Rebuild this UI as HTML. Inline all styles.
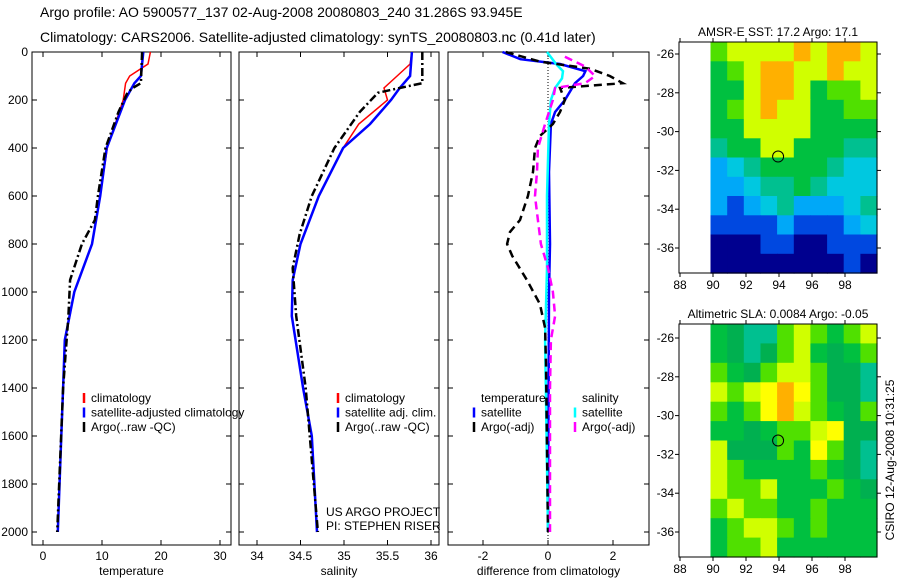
<!DOCTYPE html>
<html><head><meta charset="utf-8"><style>
body{margin:0;background:#fff;}
svg{display:block;font-family:"Liberation Sans",sans-serif;}
</style></head><body>
<svg id="c" width="900" height="580" viewBox="0 0 900 580">
<text x="40" y="17" font-size="14">Argo profile: AO 5900577_137 02-Aug-2008 20080803_240 31.286S 93.945E</text>
<text x="40" y="42" font-size="14">Climatology: CARS2006. Satellite-adjusted climatology: synTS_20080803.nc (0.41d later)</text>
</svg>
<script>
// depth arrays and values
const depthT = [0,50,100,130,200,400,600,800,1000,1200,1400,1600,2000];
const tClim  = [18.2,17.8,14.7,14.0,13.6,10.9,9.7,8.3,5.3,3.8,3.4,3.1,2.5];
const tSat   = [17.0,16.8,16.6,15.5,13.9,10.8,9.7,8.3,5.3,3.7,3.4,3.1,2.5];
const depthArgoT = [0,130,150,170,250,400,600,700,800,950,1100,1400,2000];
const tArgo  = [16.8,16.6,15.2,14.3,12.8,10.6,9.3,8.8,6.6,4.6,4.3,3.4,2.4];
const depthS = [0,50,100,150,200,300,400,600,800,950,1100,1400,1600,2000];
const sClim  = [35.78,35.76,35.61,35.46,35.50,35.17,34.99,34.71,34.50,34.41,34.40,34.53,34.63,34.69];
const sSat   = [35.78,35.77,35.76,35.64,35.54,35.30,34.99,34.71,34.50,34.41,34.40,34.53,34.63,34.69];
const depthArgoS = [0,130,150,170,250,400,600,760,900,1100,1400,2000];
const sArgo  = [35.9,35.9,35.64,35.39,35.18,34.89,34.63,34.49,34.41,34.45,34.56,34.70];
const depthD1 = [0,30,50,80,100,130,200,250,300,500,800,1000,2000];
const dTsat  = [-1.4,-0.85,0.37,1.15,1.08,0.83,0.52,0.22,0.09,0.03,0.06,0.03,0];
const depthD2 = [0,40,70,100,130,150,200,250,300,350,400,500,600,700,750,800,850,950,1050,1150,1300,2000];
const dTargo = [-1.3,-0.25,1.3,1.9,2.3,0.37,0.52,0.37,0.15,-0.25,-0.4,-0.46,-0.62,-0.86,-1.17,-1.26,-1.1,-0.65,-0.25,-0.09,-0.06,0];
const depthD3 = [0,50,80,110,150,200,300,600,900,1200,2000];
const dSsat  = [-0.03,0.25,0.46,0.43,0.22,0.09,0.03,-0.03,-0.03,-0.09,0];
const depthD4 = [20,60,100,130,150,200,300,400,500,600,700,800,900,1000,1100,1200,1400,2000];
const dSargo = [0.52,1.14,1.45,1.14,0.22,0.15,-0.09,-0.31,-0.34,-0.4,-0.31,-0.22,0,0.15,0.22,0.09,0.06,0.06];
const sstTitle = "AMSR-E SST: 17.2 Argo: 17.1";
const slaTitle = "Altimetric SLA: 0.0084 Argo: -0.05";
const sstGrid = ["gYYYYOYOOY","GgYOOYYOYY","GGYOOYGggY","GgYOYYGGgg","GGYYYYGGGG","TGGYYGGGTT","LCTGGGGTCC","LLCTTGTCCC","LBLCTLLLCT","BBBBLBBBLC","NNNBBNNBBB","NNNNNNNNBN"];
const slaGrid = ["GDTTgYgGgY","GDTDgYGDGg","gGDgYYgDDT","YgYyOygDDT","gGgyOYgGDg","GGDGggYyDD","YDDDgGygDT","YgGGGGgGDT","YggYGGGgGD","gYggGGgGGG","GgYYgGgGGG","GggYGGGGGG"];
const pal = {N:"#00008f",B:"#0048e0",L:"#00a8f8",C:"#00c8e0",T:"#00c090",G:"#00c040",D:"#00b050",g:"#50e000",Y:"#d0ff00",y:"#ffff00",O:"#ffb000"};

const svg=document.getElementById('c');
const NS="http://www.w3.org/2000/svg";
function mk(tag,attrs,parent){const e=document.createElementNS(NS,tag);for(const k in attrs)e.setAttribute(k,attrs[k]);(parent||svg).appendChild(e);return e;}
const Y0=52,Y1=545;
function yD(d){return 52+d*0.24;}
const panels=[
 {x0:32,x1:231,fx:v=>43+v*5.9,ticks:[0,10,20,30],label:"temperature",name:"temperature-panel",ylab:true},
 {x0:239,x1:439,fx:v=>257+(v-34)*87,ticks:[34,34.5,35,35.5,36],label:"salinity",name:"salinity-panel"},
 {x0:448,x1:649,fx:v=>548+v*32.5,ticks:[-2,0,2],label:"difference from climatology",name:"difference-panel"}
];
panels.forEach(p=>{
 const g=mk('g',{});
 
 
 const r=mk('rect',{x:p.x0,y:Y0,width:p.x1-p.x0,height:Y1-Y0,fill:'none',stroke:'#000','stroke-width':1},g);
 
 
 for(let d=0;d<=2000;d+=200){const y=yD(d);
  mk('line',{x1:p.x0,x2:p.x0+5,y1:y,y2:y,stroke:'#000'},g);mk('line',{x1:p.x1,x2:p.x1-5,y1:y,y2:y,stroke:'#000'},g);
  if(p.ylab){const t=mk('text',{x:p.x0-4,y:y+4,'font-size':12,'text-anchor':'end'},g);t.textContent=d;
   
   }
 }
 p.ticks.forEach(v=>{const x=p.fx(v);
  mk('line',{x1:x,x2:x,y1:Y1,y2:Y1-5,stroke:'#000'},g);mk('line',{x1:x,x2:x,y1:Y0,y2:Y0+5,stroke:'#000'},g);
  const t=mk('text',{x:x,y:Y1+15,'font-size':12,'text-anchor':'middle'},g);t.textContent=v;
  
  });
 const t=mk('text',{x:(p.x0+p.x1)/2,y:575,'font-size':12,'text-anchor':'middle'},g);t.textContent=p.label;
 
 
});
mk('line',{x1:548,x2:548,y1:Y0,y2:Y1,stroke:'#000','stroke-dasharray':'1 2'});
function series(ds,vs,fx,color,w,dash,name){
 const pts=ds.map((d,i)=>fx(vs[i]).toFixed(1)+','+yD(d).toFixed(1)).join(' ');
 const l=mk('polyline',{points:pts,fill:'none',stroke:color,'stroke-width':w});
 if(dash)l.setAttribute('stroke-dasharray',dash);
 
 
}
const [P1,P2,P3]=panels;
series(depthT,tClim,P1.fx,'#f00',1.5,null,'temp-climatology-line');
series(depthT,tSat,P1.fx,'#00f',2.5,null,'temp-satellite-line');
series(depthArgoT,tArgo,P1.fx,'#000',2.5,'8 3 2 3','temp-argo-line');
series(depthS,sClim,P2.fx,'#f00',1.5,null,'sal-climatology-line');
series(depthS,sSat,P2.fx,'#00f',2.5,null,'sal-satellite-line');
series(depthArgoS,sArgo,P2.fx,'#000',2.5,'8 3 2 3','sal-argo-line');
series(depthD1,dTsat,P3.fx,'#00f',2.5,null,'diff-temp-satellite-line');
series(depthD3,dSsat,P3.fx,'#0ff',2.5,null,'diff-sal-satellite-line');
series(depthD2,dTargo,P3.fx,'#000',2.5,'8 5','diff-temp-argo-line');
series(depthD4,dSargo,P3.fx,'#f0f',2.5,'8 5','diff-sal-argo-line');
function legend(x,y,items,name){
 const g=mk('g',{});
 
 
 items.forEach((it,i)=>{const yy=y+i*14.5;
  if(it[1])mk('line',{x1:x,x2:x,y1:yy-9,y2:yy+1,stroke:it[1],'stroke-width':2.5},g);
  const t=mk('text',{x:x+7,y:yy,'font-size':12},g);t.textContent=it[0];
  
  });
}
legend(84,402,[["climatology","#f00"],["satellite-adjusted climatology","#00f"],["Argo(..raw -QC)","#000"]],'temperature-legend');
legend(338,402,[["climatology","#f00"],["satellite adj. clim.","#00f"],["Argo(..raw -QC)","#000"]],'salinity-legend');
legend(474,402,[["temperature",null],["satellite","#00f"],["Argo(-adj)","#000"]],'diff-temp-legend');
legend(575,402,[["salinity",null],["satellite","#0ff"],["Argo(-adj)","#f0f"]],'diff-sal-legend');
let t=mk('text',{x:326,y:516,'font-size':12});t.textContent="US ARGO PROJECT";

t=mk('text',{x:326,y:530,'font-size':12});t.textContent="PI: STEPHEN RISER";


function map(top,bot,lat26,lat36,grid,title,name){
 const g=mk('g',{});
 
 
 const x0=679,x1=877,lx=v=>680+(v-88)*16.5;
 const sy=(lat36-lat26)/10, ly=v=>lat26+(-26-v)*sy;
 const xs=lx(89.85), cw=(x1-xs)/10, ch=(bot-top)/grid.length;
 grid.forEach((row,r)=>{for(let c=0;c<row.length;c++){
  mk('rect',{x:(xs+c*cw).toFixed(1),y:(top+r*ch).toFixed(1),width:(cw+0.6).toFixed(1),height:(ch+0.6).toFixed(1),fill:pal[row[c]]},g);}});
 const fr=mk('rect',{x:x0,y:top,width:x1-x0,height:bot-top,fill:'none',stroke:'#000'},g);
 
 for(let v=88;v<=98;v+=2){const x=lx(v);mk('line',{x1:x,x2:x,y1:bot,y2:bot+4,stroke:'#000'},g);mk('line',{x1:x,x2:x,y1:top,y2:top-4,stroke:'#000'},g);
  const tt=mk('text',{x:x,y:bot+16,'font-size':12,'text-anchor':'middle'},g);tt.textContent=v;
  }
 for(let v=-26;v>=-36;v-=2){const y=ly(v);mk('line',{x1:x0,x2:x0-4,y1:y,y2:y,stroke:'#000'},g);mk('line',{x1:x1,x2:x1+4,y1:y,y2:y,stroke:'#000'},g);
  const tt=mk('text',{x:x0-5,y:y+4,'font-size':12,'text-anchor':'end'},g);tt.textContent=v;
  }
 const c=mk('circle',{cx:lx(93.945),cy:ly(-31.286),r:5.5,fill:'none',stroke:'#000'},g);
 
 const tt=mk('text',{x:(x0+x1)/2,y:top-6,'font-size':12,'text-anchor':'middle'},g);tt.textContent=title;
 
}
map(42,273,54,248,sstGrid,sstTitle,'sst-map');
map(324,557,338,532,slaGrid,slaTitle,'sla-map');
t=mk('text',{x:0,y:0,'font-size':12,'text-anchor':'middle',transform:'translate(894,460) rotate(-90)'});t.textContent="CSIRO 12-Aug-2008 10:31:25";

</script>
</body></html>
